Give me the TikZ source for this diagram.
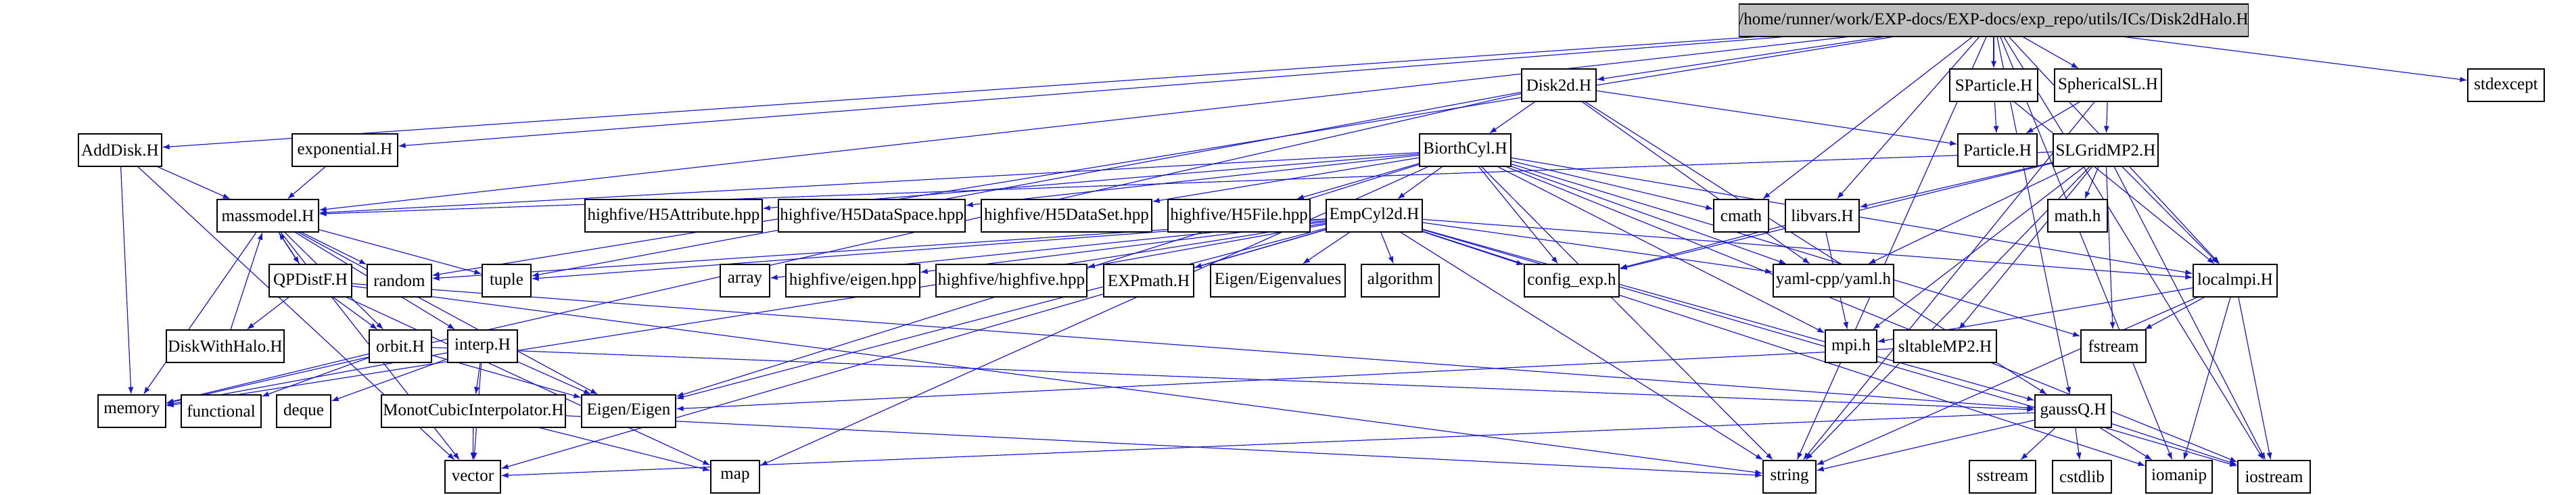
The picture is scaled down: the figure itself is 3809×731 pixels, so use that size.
\documentclass[tikz,border=0pt]{standalone}
\usepackage{fontspec}
\setmainfont{Liberation Serif}
\usetikzlibrary{arrows.meta,backgrounds}
\definecolor{edgeblue}{RGB}{25,25,205}
\definecolor{maingray}{RGB}{191,191,191}
\begin{document}
\begin{tikzpicture}[x=1pt,y=-1pt,
  box/.style={draw=black,fill=white,line width=1.2pt,minimum height=48pt,inner sep=0pt,font=\fontsize{25}{28}\selectfont,anchor=center},
  edge/.style={draw=edgeblue,line width=1.2pt,-{Latex[length=11pt,width=8pt]}}]
\useasboundingbox (0,0) rectangle (3809,731);
\newcommand\nd[5]{\node[box,minimum width={#3-#2}] (#1) at ({(#2+#3)/2},#4) {#5};}
\def\rA{30}\def\rB{126}\def\rC{222}\def\rD{319}\def\rE{415}\def\rF{512}\def\rG{608}\def\rH{705}
\node[box,fill=maingray,minimum width=706] (main) at (2948,\rA) {/home/runner/work/EXP-docs/EXP-docs/exp\_repo/utils/ICs/Disk2dHalo.H};
\nd{Disk2d}{2250}{2360}{\rB}{Disk2d.H}
\nd{SParticle}{2883}{3013}{\rB}{SParticle.H}
\nd{SphericalSL}{3038}{3196}{\rB}{SphericalSL.H}
\nd{stdexcept}{3649}{3762}{\rB}{stdexcept}
\nd{AddDisk}{116}{239}{\rC}{AddDisk.H}
\nd{expo}{432}{588}{\rC}{exponential.H}
\nd{BiorthCyl}{2099}{2234}{\rC}{BiorthCyl.H}
\nd{Particle}{2895}{3012}{\rC}{Particle.H}
\nd{SLGrid}{3036}{3191}{\rC}{SLGridMP2.H}
\nd{massmodel}{321}{471}{\rD}{massmodel.H}
\nd{HAttr}{865}{1127}{\rD}{highfive/H5Attribute.hpp}
\nd{HDS}{1151}{1427}{\rD}{highfive/H5DataSpace.hpp}
\nd{HSet}{1451}{1703}{\rD}{highfive/H5DataSet.hpp}
\nd{HFile}{1727}{1937}{\rD}{highfive/H5File.hpp}
\nd{EmpCyl}{1961}{2103}{\rD}{EmpCyl2d.H}
\nd{cmath}{2534}{2615}{\rD}{cmath}
\nd{libvars}{2640}{2749}{\rD}{libvars.H}
\nd{mathh}{3028}{3116}{\rD}{math.h}
\nd{QPDistF}{398}{520}{\rE}{QPDistF.H}
\nd{random}{543}{638}{\rE}{random}
\nd{tuple}{713}{785}{\rE}{tuple}
\nd{array}{1065}{1138}{\rE}{array}
\nd{eigenhpp}{1162}{1360}{\rE}{highfive/eigen.hpp}
\nd{highfive}{1384}{1607}{\rE}{highfive/highfive.hpp}
\nd{EXPmath}{1632}{1765}{\rE}{EXPmath.H}
\nd{Eigenvalues}{1790}{1989}{\rE}{Eigen/Eigenvalues}
\nd{algorithm}{2013}{2128}{\rE}{algorithm}
\nd{config}{2254}{2394}{\rE}{config\_exp.h}
\nd{yaml}{2622}{2800}{\rE}{yaml-cpp/yaml.h}
\nd{localmpi}{3243}{3367}{\rE}{localmpi.H}
\nd{DiskWithHalo}{246}{420}{\rF}{DiskWithHalo.H}
\nd{orbit}{546}{638}{\rF}{orbit.H}
\nd{interp}{662}{765}{\rF}{interp.H}
\nd{mpi}{2699}{2775}{\rF}{mpi.h}
\nd{sltable}{2800}{2952}{\rF}{sltableMP2.H}
\nd{fstream}{3077}{3173}{\rF}{fstream}
\nd{memory}{145}{245}{\rG}{memory}
\nd{functional}{268}{386}{\rG}{functional}
\nd{deque}{409}{489}{\rG}{deque}
\nd{Monot}{564}{836}{\rG}{MonotCubicInterpolator.H}
\nd{Eigen}{860}{999}{\rG}{Eigen/Eigen}
\nd{gaussQ}{3009}{3122}{\rG}{gaussQ.H}
\nd{vector}{658}{740}{\rH}{vector}
\nd{map}{1051}{1123}{\rH}{map}
\nd{string}{2607}{2685}{\rH}{string}
\nd{sstream}{2912}{3010}{\rH}{sstream}
\nd{cstdlib}{3035}{3122}{\rH}{cstdlib}
\nd{iomanip}{3173}{3271}{\rH}{iomanip}
\nd{iostream}{3309}{3416}{\rH}{iostream}
\begin{scope}[on background layer]
\foreach \a/\b in {main/AddDisk,main/expo,main/massmodel,main/random,main/Disk2d,main/SParticle,main/SphericalSL,main/cmath,main/libvars,main/localmpi,main/gaussQ,main/string,main/iomanip,main/iostream,main/stdexcept,
 AddDisk/massmodel,AddDisk/memory,AddDisk/vector,expo/massmodel,
 massmodel/QPDistF,massmodel/random,massmodel/tuple,massmodel/orbit,massmodel/interp,massmodel/memory,massmodel/vector,massmodel/Eigen,
 QPDistF/massmodel,QPDistF/DiskWithHalo,QPDistF/orbit,QPDistF/map,QPDistF/string,QPDistF/gaussQ,DiskWithHalo/massmodel,
 orbit/memory,orbit/functional,orbit/Eigen,orbit/gaussQ,
 interp/deque,interp/vector,interp/Monot,interp/Eigen,interp/memory,
 Monot/vector,Monot/map,Monot/string,
 Disk2d/BiorthCyl,Disk2d/Particle,Disk2d/gaussQ,Disk2d/yaml,Disk2d/tuple,Disk2d/memory,
 BiorthCyl/massmodel,BiorthCyl/HAttr,BiorthCyl/HDS,BiorthCyl/HSet,BiorthCyl/HFile,BiorthCyl/EmpCyl,BiorthCyl/cmath,BiorthCyl/config,BiorthCyl/yaml,BiorthCyl/localmpi,BiorthCyl/mpi,BiorthCyl/string,BiorthCyl/iostream,BiorthCyl/fstream,BiorthCyl/Eigen,BiorthCyl/map,
 EmpCyl/random,EmpCyl/tuple,EmpCyl/array,EmpCyl/eigenhpp,EmpCyl/highfive,EmpCyl/EXPmath,EmpCyl/Eigenvalues,EmpCyl/algorithm,EmpCyl/config,EmpCyl/yaml,EmpCyl/localmpi,EmpCyl/gaussQ,EmpCyl/string,EmpCyl/vector,EmpCyl/memory,EmpCyl/Eigen,EmpCyl/iomanip,EmpCyl/iostream,
 SParticle/Particle,SParticle/localmpi,SphericalSL/Particle,SphericalSL/SLGrid,SphericalSL/string,
 SLGrid/massmodel,SLGrid/libvars,SLGrid/mathh,SLGrid/yaml,SLGrid/localmpi,SLGrid/mpi,SLGrid/sltable,SLGrid/fstream,SLGrid/string,SLGrid/iostream,SLGrid/config,
 libvars/mpi,libvars/config,
 localmpi/mpi,localmpi/fstream,localmpi/iostream,localmpi/iomanip,localmpi/string,
 sltable/Eigen,
 gaussQ/string,gaussQ/sstream,gaussQ/cstdlib,gaussQ/iomanip,gaussQ/iostream,gaussQ/vector}
 \draw[edge] (\a) -- (\b);
\end{scope}
\end{tikzpicture}
\end{document}
